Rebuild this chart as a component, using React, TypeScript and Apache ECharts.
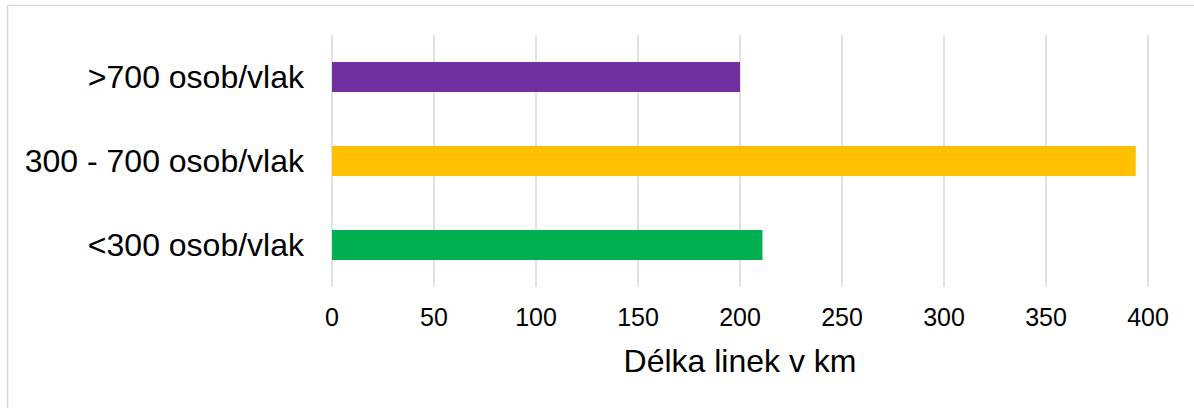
import React, { useEffect, useRef } from "react";
import * as echarts from "echarts";

const categories = ["<300 osob/vlak", "300 - 700 osob/vlak", ">700 osob/vlak"];
const values = [211, 394, 200];
const colors = ["#00B050", "#FFC000", "#7030A0"];
const axisTitle = "Délka linek v km";

export default function App() {
  const ref = useRef<HTMLDivElement>(null);
  useEffect(() => {
    if (!ref.current) return;
    const chart = echarts.init(ref.current, undefined, { renderer: "svg" });
    chart.setOption({
      animation: false,
      backgroundColor: "#ffffff",
      textStyle: { fontFamily: "'Liberation Sans', Arial, sans-serif" },
      graphic: [
        {
          type: "rect",
          shape: { x: 7.5, y: 5.5, width: 1400, height: 600 },
          style: { fill: "none", stroke: "#d9d9d9", lineWidth: 1.5 },
          silent: true,
        },
      ],
      grid: { left: 332, right: 46, top: 35, bottom: 121, containLabel: false },
      xAxis: {
        type: "value",
        min: 0,
        max: 400,
        interval: 50,
        axisLine: { show: false },
        axisTick: { show: false },
        splitLine: { show: true, lineStyle: { color: "#d9d9d9", width: 1.5 } },
        axisLabel: {
          color: "#000",
          fontSize: 25,
          margin: 17,
          fontFamily: "'Liberation Sans', Arial, sans-serif",
        },
        name: axisTitle,
        nameLocation: "middle",
        nameGap: 58,
        nameTextStyle: {
          color: "#000",
          fontSize: 32,
          fontFamily: "'Liberation Sans', Arial, sans-serif",
        },
      },
      yAxis: {
        type: "category",
        data: categories,
        axisLine: { show: false },
        axisTick: { show: false },
        splitLine: { show: false },
        axisLabel: {
          color: "#000",
          fontSize: 32,
          margin: 28,
          fontFamily: "'Liberation Sans', Arial, sans-serif",
        },
      },
      series: [
        {
          type: "bar",
          barWidth: 30,
          data: values.map((v, i) => ({ value: v, itemStyle: { color: colors[i] } })),
        },
      ],
    });
    return () => chart.dispose();
  }, []);
  return (
    <div
      ref={ref}
      style={{ position: "absolute", left: 0, top: 0, width: 1194, height: 408 }}
    />
  );
}
